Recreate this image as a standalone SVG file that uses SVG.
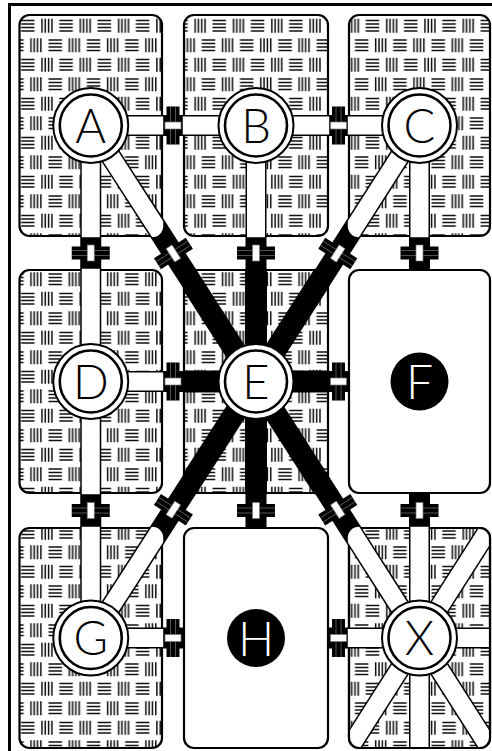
<svg xmlns="http://www.w3.org/2000/svg" width="492" height="751" viewBox="0 0 492 751">
<style>
.room{stroke:#000;stroke-width:2.2}
.pat{fill:url(#weave)}
.blank{fill:#fff}
.outline{fill:none;stroke:#000;stroke-width:2.2}
.band{stroke:#000;stroke-width:21;fill:none}
.eband{stroke:#000;stroke-width:22;fill:none}
.edge{stroke:#000;stroke-width:21;fill:none}
.core{stroke:#fff;stroke-width:18;fill:none}
.ring{fill:#fff;stroke:#000;stroke-width:2}
.inner{fill:none;stroke:#000;stroke-width:2.6}
.lbl{font-family:Lato,"Liberation Sans",sans-serif;font-weight:300;font-size:47px;text-anchor:middle;fill:#000}
.wl{font-family:Lato,"Liberation Sans",sans-serif;font-weight:300;font-size:48px;text-anchor:middle;fill:#fff}
.frame{stroke:#000;stroke-width:3;fill:none}
</style>
<defs>
<pattern id="weave" patternUnits="userSpaceOnUse" x="20.5" y="17" width="38.3" height="39">
<rect width="38.3" height="39" fill="#fff"/>
<g stroke="#111" stroke-width="1.5" fill="none">
<path d="M0.5 3.5H14M0.5 7H14M0.5 10.5H14M0.5 14H14"/>
<path d="M21.5 1.8V15.8M24.8 1.8V15.8M28.1 1.8V15.8M31.4 1.8V15.8"/>
<path d="M28 23H41.5M28 26.5H41.5M28 30H41.5M28 33.5H41.5"/>
<path d="M-10.3 23H3.2M-10.3 26.5H3.2M-10.3 30H3.2M-10.3 33.5H3.2"/>
<path d="M10.5 21.3V35.3M13.8 21.3V35.3M17.1 21.3V35.3M20.4 21.3V35.3"/>
</g>
</pattern>
<g id="door">
<rect x="-19" y="-6.5" width="38" height="13" fill="#000"/>
<path d="M-19 -2.5H19M-19 2.5H19" stroke="#8a8a8a" stroke-width="0.6"/>
<rect x="-3.5" y="-8" width="7" height="16" fill="#fff" stroke="#777" stroke-width="0.7"/>
</g>
<clipPath id="cA"><rect x="18.3" y="13.8" width="144.9" height="223.4" rx="11"/></clipPath>
<clipPath id="cB"><rect x="182.8" y="13.8" width="146.4" height="223.4" rx="11"/></clipPath>
<clipPath id="cC"><rect x="347.8" y="13.8" width="143.4" height="223.4" rx="11"/></clipPath>
<clipPath id="cD"><rect x="18.3" y="268.8" width="144.9" height="225.4" rx="11"/></clipPath>
<clipPath id="cE"><rect x="182.8" y="268.8" width="146.4" height="225.4" rx="11"/></clipPath>
<clipPath id="cG"><rect x="18.3" y="526.8" width="144.9" height="222.4" rx="11"/></clipPath>
<clipPath id="cX"><rect x="347.8" y="526.8" width="143.4" height="222.4" rx="11"/></clipPath>
<clipPath id="cXi"><rect x="349" y="528" width="141" height="220" rx="10"/></clipPath>
</defs>
<rect width="492" height="751" fill="#fff"/>
<path class="frame" d="M9.5 751V4.5H492"/>

<g id="connectors">
<g class="band">
<line x1="90.75" y1="125.5" x2="256" y2="125.5"/>
<line x1="256" y1="125.5" x2="419.5" y2="125.5"/>
<line x1="90.75" y1="381.5" x2="419.5" y2="381.5"/>
<line x1="90.75" y1="638" x2="419.5" y2="638"/>
<line x1="90.75" y1="125.5" x2="90.75" y2="638"/>
<line x1="256" y1="125.5" x2="256" y2="638"/>
<line x1="419.5" y1="125.5" x2="419.5" y2="638"/>
<line x1="90.75" y1="125.5" x2="256" y2="381.5"/>
<line x1="419.5" y1="125.5" x2="256" y2="381.5"/>
<line x1="90.75" y1="638" x2="256" y2="381.5"/>
<line x1="419.5" y1="638" x2="256" y2="381.5"/>
</g>
</g>

<g id="A"><rect class="room pat" x="19.5" y="15" width="142.5" height="221" rx="10"/></g>
<g id="B"><rect class="room pat" x="184" y="15" width="144" height="221" rx="10"/></g>
<g id="C"><rect class="room pat" x="349" y="15" width="141" height="221" rx="10"/></g>
<g id="D"><rect class="room pat" x="19.5" y="270" width="142.5" height="223" rx="10"/></g>
<g id="E"><rect class="room pat" x="184" y="270" width="144" height="223" rx="10"/></g>
<g id="F"><rect class="room blank" x="349" y="270" width="141" height="223" rx="10"/></g>
<g id="G"><rect class="room pat" x="19.5" y="528" width="142.5" height="220" rx="10"/></g>
<g id="H"><rect class="room blank" x="184" y="528" width="144" height="220" rx="10"/></g>
<g id="X"><rect class="room pat" x="349" y="528" width="141" height="220" rx="10"/></g>

<g id="corridors">
<g clip-path="url(#cA)">
<g class="edge"><line x1="90.75" y1="125.5" x2="256" y2="125.5"/><line x1="90.75" y1="125.5" x2="90.75" y2="381.5"/><line x1="90.75" y1="125.5" x2="256" y2="381.5"/></g>
<g class="core"><line x1="90.75" y1="125.5" x2="256" y2="125.5"/><line x1="90.75" y1="125.5" x2="90.75" y2="381.5"/><line x1="90.75" y1="125.5" x2="256" y2="381.5"/></g>
</g>
<g clip-path="url(#cB)">
<g class="edge"><line x1="90" y1="125.5" x2="420" y2="125.5"/><line x1="256" y1="125.5" x2="256" y2="381.5"/></g>
<g class="core"><line x1="90" y1="125.5" x2="420" y2="125.5"/><line x1="256" y1="125.5" x2="256" y2="381.5"/></g>
</g>
<g clip-path="url(#cC)">
<g class="edge"><line x1="419.5" y1="125.5" x2="256" y2="125.5"/><line x1="419.5" y1="125.5" x2="419.5" y2="381.5"/><line x1="419.5" y1="125.5" x2="256" y2="381.5"/></g>
<g class="core"><line x1="419.5" y1="125.5" x2="256" y2="125.5"/><line x1="419.5" y1="125.5" x2="419.5" y2="381.5"/><line x1="419.5" y1="125.5" x2="256" y2="381.5"/></g>
</g>
<g clip-path="url(#cD)">
<g class="edge"><line x1="90.75" y1="125.5" x2="90.75" y2="638"/><line x1="90.75" y1="381.5" x2="256" y2="381.5"/></g>
<g class="core"><line x1="90.75" y1="125.5" x2="90.75" y2="638"/><line x1="90.75" y1="381.5" x2="256" y2="381.5"/></g>
</g>
<g clip-path="url(#cG)">
<g class="edge"><line x1="90.75" y1="638" x2="90.75" y2="381.5"/><line x1="90.75" y1="638" x2="256" y2="638"/><line x1="90.75" y1="638" x2="256" y2="381.5"/></g>
<g class="core"><line x1="90.75" y1="638" x2="90.75" y2="381.5"/><line x1="90.75" y1="638" x2="256" y2="638"/><line x1="90.75" y1="638" x2="256" y2="381.5"/></g>
</g>
<g clip-path="url(#cXi)">
<g class="edge"><line x1="419.5" y1="638" x2="419.5" y2="894.5"/><line x1="419.5" y1="638" x2="583" y2="638"/><line x1="419.5" y1="638" x2="583" y2="894.5"/><line x1="583" y1="381.5" x2="256" y2="894.5"/></g>
<g class="core"><line x1="419.5" y1="638" x2="419.5" y2="894.5"/><line x1="419.5" y1="638" x2="583" y2="638"/><line x1="419.5" y1="638" x2="583" y2="894.5"/><line x1="583" y1="381.5" x2="256" y2="894.5"/></g>
</g>
<rect class="outline" x="349" y="528" width="141" height="220" rx="10"/>
<g clip-path="url(#cX)">
<g class="edge"><line x1="419.5" y1="638" x2="419.5" y2="381.5"/><line x1="419.5" y1="638" x2="256" y2="638"/><line x1="419.5" y1="638" x2="256" y2="381.5"/></g>
<g class="core"><line x1="419.5" y1="638" x2="419.5" y2="381.5"/><line x1="419.5" y1="638" x2="256" y2="638"/><line x1="419.5" y1="638" x2="256" y2="381.5"/></g>
</g>
<g clip-path="url(#cE)" class="eband">
<line x1="90" y1="381.5" x2="420" y2="381.5"/>
<line x1="256" y1="125.5" x2="256" y2="638"/>
<line x1="90.75" y1="125.5" x2="419.5" y2="638"/>
<line x1="419.5" y1="125.5" x2="90.75" y2="638"/>
</g>
</g>

<g id="doors">
<use href="#door" transform="translate(173 125.5) rotate(90)"/>
<use href="#door" transform="translate(338.5 125.5) rotate(90)"/>
<use href="#door" transform="translate(173 381.5) rotate(90)"/>
<use href="#door" transform="translate(338.5 381.5) rotate(90)"/>
<use href="#door" transform="translate(173 638) rotate(90)"/>
<use href="#door" transform="translate(338.5 638) rotate(90)"/>
<use href="#door" transform="translate(90.75 253)"/>
<use href="#door" transform="translate(256 253)"/>
<use href="#door" transform="translate(419.5 253)"/>
<use href="#door" transform="translate(90.75 510.5)"/>
<use href="#door" transform="translate(256 510.5)"/>
<use href="#door" transform="translate(419.5 510.5)"/>
<use href="#door" transform="translate(173.4 253.5) rotate(-32.85)"/>
<use href="#door" transform="translate(337.75 253.5) rotate(32.57)"/>
<use href="#door" transform="translate(173.4 509.75) rotate(32.83)"/>
<use href="#door" transform="translate(337.75 509.75) rotate(-32.5)"/>
</g>

<g id="nodes">
<g id="nA"><circle class="ring" cx="90.75" cy="125.5" r="37.5"/><circle class="inner" cx="90.75" cy="125.5" r="31"/><text class="lbl" x="90.75" y="142.5">A</text></g>
<g id="nB"><circle class="ring" cx="256" cy="125.5" r="37.5"/><circle class="inner" cx="256" cy="125.5" r="31"/><text class="lbl" x="256" y="142.5">B</text></g>
<g id="nC"><circle class="ring" cx="419.5" cy="125.5" r="37.5"/><circle class="inner" cx="419.5" cy="125.5" r="31"/><text class="lbl" x="419.5" y="142.5">C</text></g>
<g id="nD"><circle class="ring" cx="90.75" cy="381.5" r="37.5"/><circle class="inner" cx="90.75" cy="381.5" r="31"/><text class="lbl" x="90.75" y="398.5">D</text></g>
<g id="nE"><circle class="ring" cx="256" cy="381.5" r="37.5"/><circle class="inner" cx="256" cy="381.5" r="31"/><text class="lbl" x="256" y="398.5">E</text></g>
<g id="nF"><circle cx="419.5" cy="381.5" r="29" fill="#000"/><text class="wl" x="419.5" y="399">F</text></g>
<g id="nG"><circle class="ring" cx="90.75" cy="638" r="37.5"/><circle class="inner" cx="90.75" cy="638" r="31"/><text class="lbl" x="90.75" y="655">G</text></g>
<g id="nH"><circle cx="256" cy="638" r="29" fill="#000"/><text class="wl" x="256" y="655.5">H</text></g>
<g id="nX"><circle class="ring" cx="419.5" cy="638" r="37.5"/><circle class="inner" cx="419.5" cy="638" r="31"/><text class="lbl" x="419.5" y="655">X</text></g>
</g>
</svg>
